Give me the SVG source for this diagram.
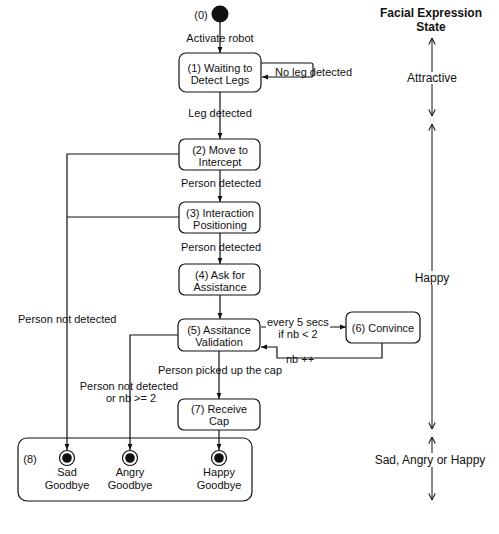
<svg xmlns="http://www.w3.org/2000/svg" width="499" height="534" viewBox="0 0 499 534">
<style>
text{font-family:"Liberation Sans",Arial,sans-serif;font-size:11px;fill:#111;text-anchor:middle}
.r{font-size:12px}
.b{font-weight:bold;font-size:12px}
.box{fill:#fff;stroke:#111;stroke-width:1.2}
.c{fill:none;stroke:#111;stroke-width:1.2}
.s{fill:none;stroke:#111;stroke-width:1}
.st{text-anchor:start}
</style>
<defs>
<marker id="a" viewBox="0 0 10 10" refX="10" refY="5" markerWidth="6" markerHeight="6" markerUnits="userSpaceOnUse" orient="auto"><path d="M0,1L10,5L0,9z" fill="#111"/></marker>
<marker id="v" viewBox="0 0 10 10" refX="10" refY="5" markerWidth="8" markerHeight="8" markerUnits="userSpaceOnUse" orient="auto-start-reverse"><path d="M2,1L10,5L2,9" fill="none" stroke="#111" stroke-width="1.3"/></marker>
</defs>
<rect width="499" height="534" fill="#fff"/>
<g id="connectors">
<path class="c" d="M220,22V53" marker-end="url(#a)"/>
<path class="c" d="M261,63H311Q313,63 313,65V75Q313,77 311,77H262" marker-end="url(#a)"/>
<path class="c" d="M220,92V139" marker-end="url(#a)"/>
<path class="c" d="M220,170V202" marker-end="url(#a)"/>
<path class="c" d="M220,233V264" marker-end="url(#a)"/>
<path class="c" d="M220,295V319" marker-end="url(#a)"/>
<path class="c" d="M219,351V399" marker-end="url(#a)"/>
<path class="c" d="M219,430V450" marker-end="url(#a)"/>
<path class="c" d="M179,154H67V450" marker-end="url(#a)"/>
<path class="c" d="M179,217H67"/>
<path class="c" d="M178,335H130V450" marker-end="url(#a)"/>
<path class="c" d="M261,327h5M330,327H346" marker-end="url(#a)"/>
<path class="c" d="M382,343V358H277V347H261" marker-end="url(#a)"/>
</g>
<g id="n0"><circle cx="220" cy="14" r="8.5" fill="#111"/><text x="201" y="19">(0)</text></g>
<g id="n1"><rect class="box" x="179" y="53" width="82" height="39" rx="7"/><text x="220" y="71.5">(1) Waiting to</text><text x="220" y="84">Detect Legs</text></g>
<g id="n2"><rect class="box" x="179" y="139" width="81" height="31" rx="6"/><text x="220" y="153.5">(2) Move to</text><text x="220" y="166">Intercept</text></g>
<g id="n3"><rect class="box" x="179" y="202" width="81" height="31" rx="6"/><text x="220" y="216.5">(3) Interaction</text><text x="220" y="229">Positioning</text></g>
<g id="n4"><rect class="box" x="179" y="264" width="81" height="31" rx="6"/><text x="220" y="278.5">(4) Ask for</text><text x="220" y="291">Assistance</text></g>
<g id="n5"><rect class="box" x="178" y="319" width="82" height="32" rx="6"/><text x="219" y="334">(5) Assitance</text><text x="219" y="346">Validation</text></g>
<g id="n6"><rect class="box" x="346" y="312" width="74" height="31" rx="6"/><text x="383" y="332">(6) Convince</text></g>
<g id="n7"><rect class="box" x="178" y="399" width="82" height="31" rx="6"/><text x="219" y="413">(7) Receive</text><text x="219" y="425">Cap</text></g>
<g id="n8">
<rect x="18" y="438" width="234" height="63" rx="9" fill="none" stroke="#111" stroke-width="1.2"/>
<text x="30" y="463">(8)</text>
<circle cx="67" cy="458" r="7.5" fill="#fff" stroke="#111" stroke-width="1.2"/><circle cx="67" cy="458" r="4.8" fill="#111"/>
<text x="67" y="476">Sad</text><text x="67" y="489">Goodbye</text>
<circle cx="130" cy="458" r="7.5" fill="#fff" stroke="#111" stroke-width="1.2"/><circle cx="130" cy="458" r="4.8" fill="#111"/>
<text x="130" y="476">Angry</text><text x="130" y="489">Goodbye</text>
<circle cx="219" cy="458" r="7.5" fill="#fff" stroke="#111" stroke-width="1.2"/><circle cx="219" cy="458" r="4.8" fill="#111"/>
<text x="219" y="476">Happy</text><text x="219" y="489">Goodbye</text>
</g>
<g id="labels">
<text x="220" y="42">Activate robot</text>
<text class="st" x="275" y="76">No leg detected</text>
<text x="220" y="117">Leg detected</text>
<text x="221" y="187">Person detected</text>
<text x="221" y="251">Person detected</text>
<text class="st" x="18" y="323">Person not detected</text>
<text class="st" x="267" y="326">every 5 secs</text>
<text x="298" y="338">if nb &lt; 2</text>
<text x="300" y="363">nb ++</text>
<text x="220" y="374">Person picked up the cap</text>
<text x="129" y="390">Person not detected</text>
<text x="131" y="402">or nb &gt;= 2</text>
</g>
<g id="facial">
<text class="b" x="431" y="16.5">Facial Expression</text>
<text class="b" x="431" y="31">State</text>
<path class="s" d="M432,72V38" marker-end="url(#v)"/>
<path class="s" d="M432,84V116" marker-end="url(#v)"/>
<text class="r" x="432" y="82">Attractive</text>
<path class="s" d="M432,271V124" marker-end="url(#v)"/>
<path class="s" d="M432,285V429" marker-end="url(#v)"/>
<text class="r" x="432" y="282">Happy</text>
<path class="s" d="M432,453V437" marker-end="url(#v)"/>
<path class="s" d="M432,467V500" marker-end="url(#v)"/>
<text class="r" x="430" y="464">Sad, Angry or Happy</text>
</g>
</svg>
